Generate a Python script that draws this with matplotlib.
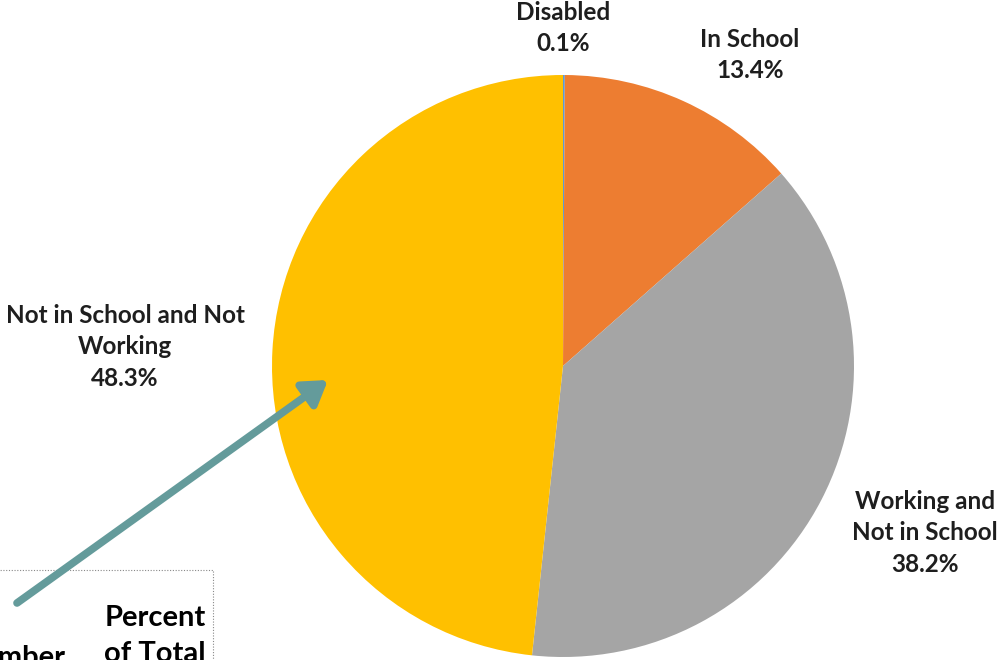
import matplotlib
matplotlib.use("Agg")
import matplotlib.pyplot as plt
from matplotlib.patches import Rectangle

# --- Data ---
categories = ["Disabled", "In School", "Working and\nNot in School", "Not in School and Not\nWorking"]
percents = [0.1, 13.4, 38.2, 48.3]
colors = ["#5B9BD5", "#ED7D31", "#A5A5A5", "#FFC000"]
table_headers = ["Number", "Percent\nof Total"]

plt.rcParams['font.family'] = ['Lato', 'DejaVu Sans']

fig = plt.figure(figsize=(9.97, 6.60), dpi=100)
ax = fig.add_axes([0, 0, 1, 1])

# --- Pie ---
cx, cy, r = 563, 294, 291
ax.pie(percents, colors=colors, startangle=90, counterclock=False,
       center=(cx, cy), radius=r, frame=True,
       wedgeprops=dict(linewidth=0))
ax.set_xlim(0, 997)
ax.set_ylim(0, 660)
ax.set_aspect('equal')
ax.axis('off')

# --- Labels ---
label_pos = [(563, 632), (750, 605), (925, 127), (125, 313)]
for name, pct, (x, y) in zip(categories, percents, label_pos):
    ax.text(x, y, f"{name}\n{pct:.1f}%", ha='center', va='center',
            fontsize=17.5, fontweight='bold', color='#1e1e1e', linespacing=1.45)

# --- Arrow ---
ax.annotate("", xy=(328, 280), xytext=(17, 57),
            arrowprops=dict(arrowstyle="-|>,head_length=1.4,head_width=0.9",
                            color="#649B9B", lw=5.5, shrinkA=0, shrinkB=0))

# --- Table fragment bottom-left ---
ax.add_patch(Rectangle((-5, -20), 218, 110, fill=False, ec='#888888',
                       lw=0.8, ls=(0, (1, 1.5))))
ax.text(66, 2, table_headers[0], ha='right', va='center', fontsize=21,
        fontweight='bold', color='black')
ax.text(206, 24, table_headers[1], ha='right', va='center', fontsize=21,
        fontweight='bold', color='black', linespacing=1.45, multialignment='right')

fig.savefig("out.png", dpi=100)
